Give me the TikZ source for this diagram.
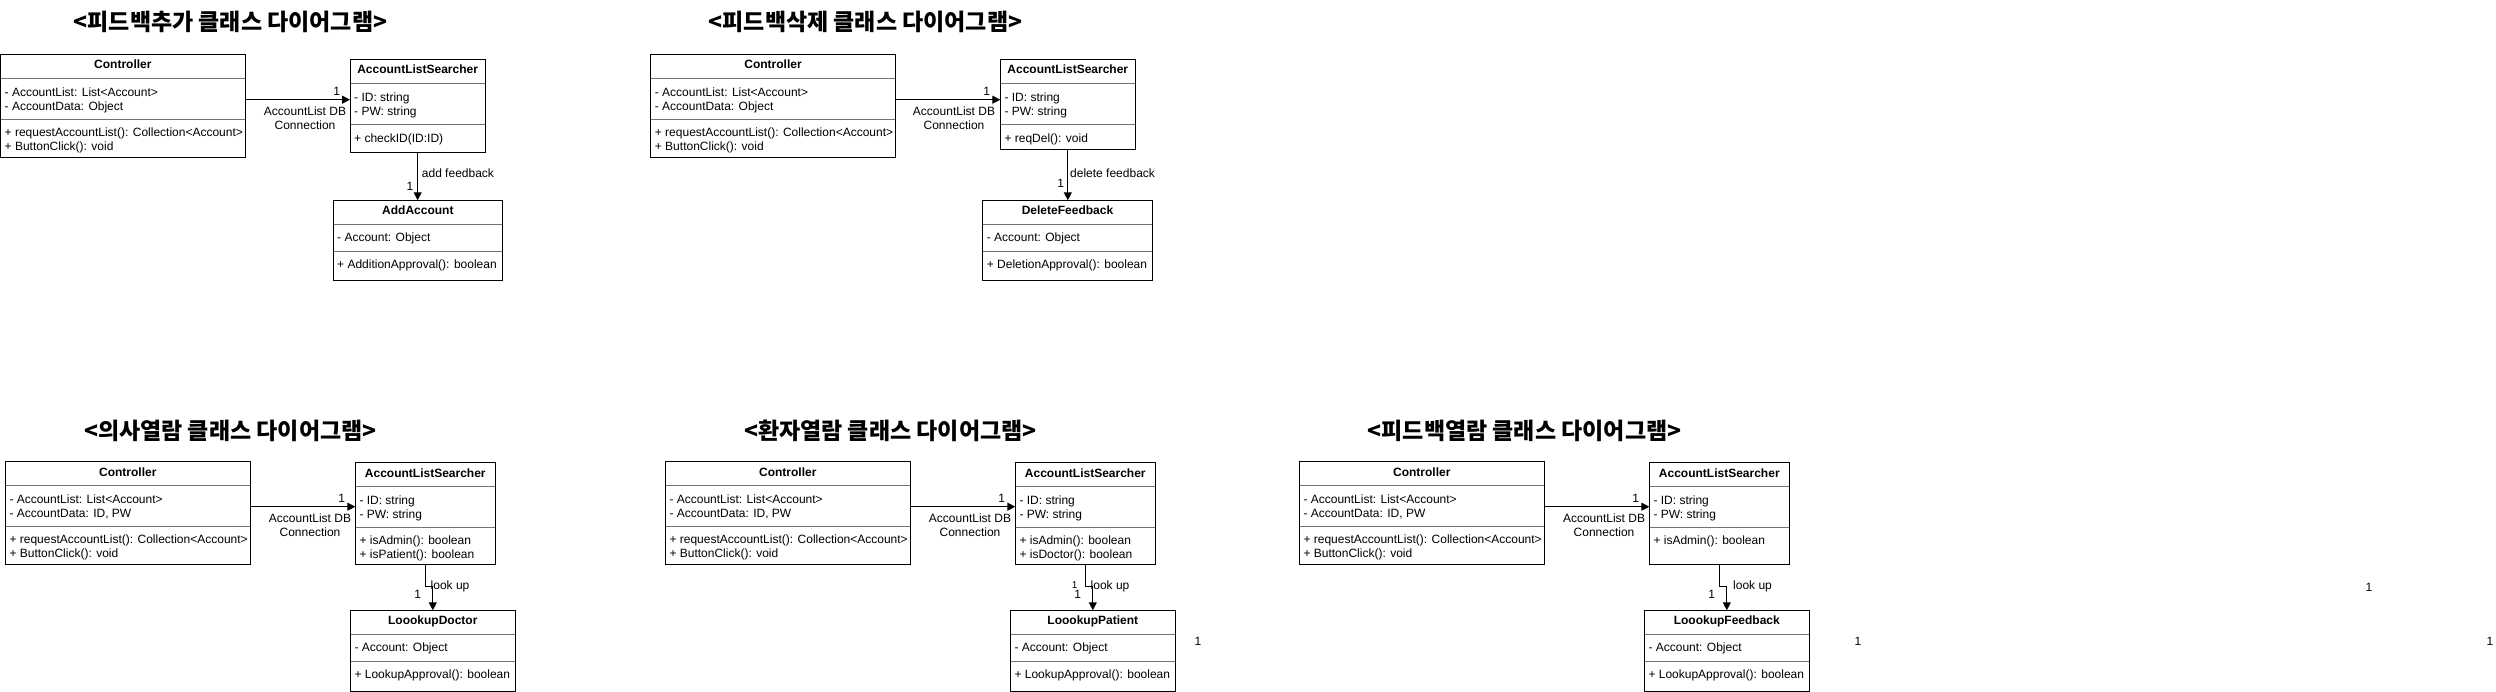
\documentclass[tikz,border=0pt]{standalone}
\usepackage{fontspec}
\setmainfont{Liberation Sans}
\newfontfamily\krfont{Noto Sans CJK KR}
\usetikzlibrary{arrows.meta}
\tikzset{
 classbox/.style={draw=black, line width=1pt, inner sep=0pt, outer sep=0pt, fill=white},
 sepline/.style={draw=black!55, line width=1pt},
 boxtitle/.style={font=\bfseries\fontsize{12}{14}\selectfont, inner sep=0pt, text height=8.6pt, text depth=0pt},
 boxtext/.style={font=\fontsize{12}{14}\selectfont, inner sep=0pt, text height=8.6pt, text depth=0pt, anchor=west},
 lbl/.style={font=\fontsize{12}{14}\selectfont, inner sep=0pt, text height=8.6pt, text depth=0pt},
 lblsmall/.style={font=\fontsize{10}{12}\selectfont, inner sep=0pt, text height=7.2pt, text depth=0pt},
 lbltwo/.style={font=\fontsize{12}{14}\selectfont, inner sep=0pt, align=center},
 assoc/.style={draw=black, line width=1pt, -{Triangle[length=8pt,width=8pt]}},
 ttl/.style={font=\krfont\bfseries\fontsize{23}{27}\selectfont, inner sep=0pt, anchor=base},
}
% #1 name #2 x1 #3 y1 #4 x2 #5 y2 #6 separator offset #7 title #8 attributes #9 methods
\newcommand{\umlclass}[9]{%
 \node[classbox, minimum width={(#4-#2)*1pt}, minimum height={(#5-#3)*1pt}] (#1) at ({(#2+#4)/2},{(#3+#5)/2}) {};
 \draw[sepline] ({#2+0.5},{#3+24}) -- ({#4-0.5},{#3+24});
 \draw[sepline] ({#2+0.5},{#3+#6}) -- ({#4-0.5},{#3+#6});
 \node[boxtitle] (#1-title) at ({(#2+#4)/2},{#3+10}) {#7};
 \foreach \s [count=\i from 0] in {#8} {\node[boxtext] (#1-attr\i) at ({#2+4},{#3+24+13.3+14*\i}) {\s};}
 \foreach \s [count=\i from 0] in {#9} {\node[boxtext] (#1-meth\i) at ({#2+4},{#3+#6+13.3+14*\i}) {\s};}
}
\begin{document}
\begin{tikzpicture}[x=1pt,y=-1pt]
\useasboundingbox (0,0) rectangle (2496,692);

% ---------- titles
\node[ttl] (t1) at (230.5,30.3) {<피드백추가 클래스 다이어그램>};
\node[ttl] (t2) at (865.5,30.3) {<피드백삭제 클래스 다이어그램>};
\node[ttl] (t3) at (230.3,439.8) {<의사열람 클래스 다이어그램>};
\node[ttl] (t4) at (890.3,439.8) {<환자열람 클래스 다이어그램>};
\node[ttl] (t5) at (1524.5,439.8) {<피드백열람 클래스 다이어그램>};

% ---------- panel 1
\umlclass{c1}{0.5}{54.7}{245.3}{157.3}{64.6}{Controller}
 {- AccountList: List<Account>, - AccountData: Object}
 {+ requestAccountList(): Collection<Account>, + ButtonClick(): void}
\umlclass{a1}{350}{59.7}{485.3}{152.3}{65}{AccountListSearcher}
 {- ID: string, - PW: string}
 {+ checkID(ID:ID)}
\umlclass{d1}{333}{200.3}{502.7}{281}{51}{AddAccount}
 {- Account: Object}
 {+ AdditionApproval(): boolean}
\draw[assoc] ([yshift=6.3pt]c1.east) -- ([yshift=6.3pt]c1.east -| a1.west);
\draw[assoc] (a1.south) -- (a1.south |- d1.north);
\node[lbl] (m1a) at (336.7,91) {1};
\node[lbltwo] (e1a) at (305,118.7) {AccountList DB\\Connection};
\node[lbl, anchor=west] (e1b) at (421.7,173.7) {add feedback};
\node[lbl] (m1b) at (410,186) {1};

% ---------- panel 2
\umlclass{c2}{650.7}{54.7}{895.3}{157.3}{64.6}{Controller}
 {- AccountList: List<Account>, - AccountData: Object}
 {+ requestAccountList(): Collection<Account>, + ButtonClick(): void}
\umlclass{a2}{1000.3}{59.7}{1135.3}{150}{65}{AccountListSearcher}
 {- ID: string, - PW: string}
 {+ reqDel(): void}
\umlclass{d2}{982.7}{200.3}{1152.3}{281}{51}{DeleteFeedback}
 {- Account: Object}
 {+ DeletionApproval(): boolean}
\draw[assoc] ([yshift=6.3pt]c2.east) -- ([yshift=6.3pt]c2.east -| a2.west);
\draw[assoc] (a2.south) -- (a2.south |- d2.north);
\node[lbl] (m2a) at (986.7,91) {1};
\node[lbltwo] (e2a) at (954,118.7) {AccountList DB\\Connection};
\node[lbl, anchor=west] (e2b) at (1070,173.7) {delete feedback};
\node[lbl] (m2b) at (1060.7,183) {1};

% ---------- panel 3
\umlclass{c3}{5.3}{461.7}{250.3}{564.3}{64.6}{Controller}
 {- AccountList: List<Account>, {- AccountData: ID, PW}}
 {+ requestAccountList(): Collection<Account>, + ButtonClick(): void}
\umlclass{a3}{355.3}{462.7}{495.3}{564.3}{64.6}{AccountListSearcher}
 {- ID: string, - PW: string}
 {+ isAdmin(): boolean, + isPatient(): boolean}
\umlclass{l3}{350.3}{610.3}{515.3}{691.3}{51}{LoookupDoctor}
 {- Account: Object}
 {+ LookupApproval(): boolean}
\draw[assoc] ([yshift=6.3pt]c3.east) -- ([yshift=6.3pt]c3.east -| a3.west);
\draw[assoc] (a3.south) -- ++(0,22.4) -| (l3.north);
\node[lbl] (m3a) at (341.7,498.3) {1};
\node[lbltwo] (e3a) at (310,525.7) {AccountList DB\\Connection};
\node[lbl, anchor=west] (e3b) at (430.5,584.7) {look up};
\node[lbl] (m3b) at (417.7,594) {1};

% ---------- panel 4
\umlclass{c4}{665.3}{461.7}{910.3}{564.3}{64.6}{Controller}
 {- AccountList: List<Account>, {- AccountData: ID, PW}}
 {+ requestAccountList(): Collection<Account>, + ButtonClick(): void}
\umlclass{a4}{1015.3}{462.7}{1155.3}{564.3}{64.6}{AccountListSearcher}
 {- ID: string, - PW: string}
 {+ isAdmin(): boolean, + isDoctor(): boolean}
\umlclass{l4}{1010.3}{610.3}{1175.3}{691.3}{51}{LoookupPatient}
 {- Account: Object}
 {+ LookupApproval(): boolean}
\draw[assoc] ([yshift=6.3pt]c4.east) -- ([yshift=6.3pt]c4.east -| a4.west);
\draw[assoc] (a4.south) -- ++(0,22.4) -| (l4.north);
\node[lbl] (m4a) at (1001.7,498.3) {1};
\node[lbltwo] (e4a) at (970,525.7) {AccountList DB\\Connection};
\node[lbl, anchor=west] (e4b) at (1090.5,584.7) {look up};
\node[lblsmall] (m4b) at (1074.7,585) {1};
\node[lbl] (m4c) at (1077.7,594) {1};
\node[lbl] (m4d) at (1198,641) {1};

% ---------- panel 5
\umlclass{c5}{1299.3}{461.7}{1544.3}{564.3}{64.6}{Controller}
 {- AccountList: List<Account>, {- AccountData: ID, PW}}
 {+ requestAccountList(): Collection<Account>, + ButtonClick(): void}
\umlclass{a5}{1649.3}{462.7}{1789.3}{564.3}{64.6}{AccountListSearcher}
 {- ID: string, - PW: string}
 {+ isAdmin(): boolean}
\umlclass{l5}{1644.3}{610.3}{1809.3}{691.3}{51}{LoookupFeedback}
 {- Account: Object}
 {+ LookupApproval(): boolean}
\draw[assoc] ([yshift=6.3pt]c5.east) -- ([yshift=6.3pt]c5.east -| a5.west);
\draw[assoc] (a5.south) -- ++(0,22.4) -| (l5.north);
\node[lbl] (m5a) at (1635.7,498.3) {1};
\node[lbltwo] (e5a) at (1604,525.7) {AccountList DB\\Connection};
\node[lbl, anchor=west] (e5b) at (1733,584.7) {look up};
\node[lbl] (m5b) at (1711.7,594) {1};
\node[lbl] (m5c) at (1858,641) {1};

% ---------- detached multiplicity labels
\node[lbl] (s1) at (2369,587) {1};
\node[lbl] (s2) at (2490,641) {1};
\end{tikzpicture}
\end{document}
